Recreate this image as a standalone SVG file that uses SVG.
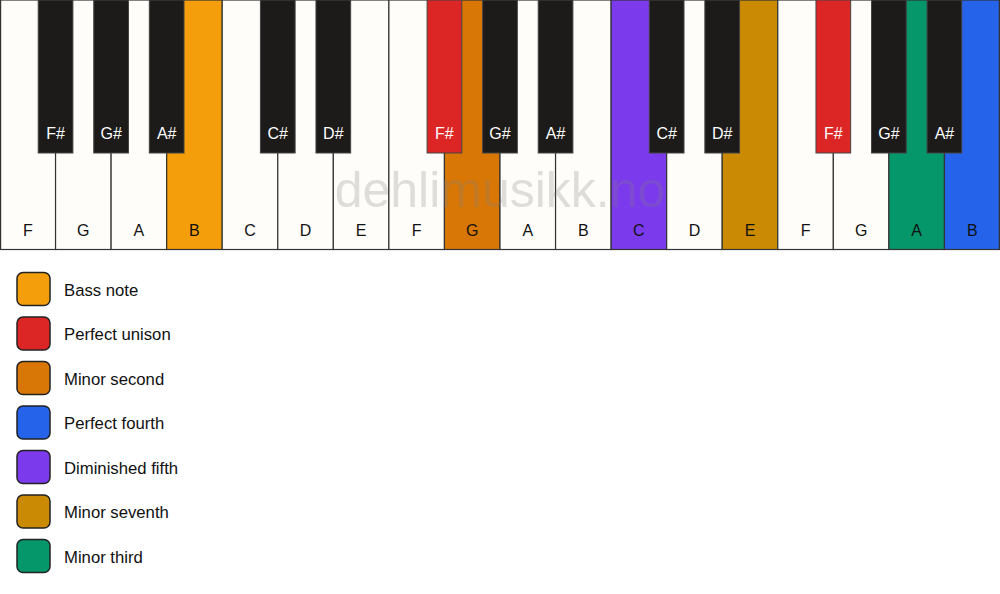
<svg xmlns="http://www.w3.org/2000/svg" width="1000" height="594" viewBox="0 0 1000 594">
<style>
.w{fill:#FFFDF9;stroke:#333;stroke-width:1.2}
.b{fill:#1C1B1A;stroke:#444;stroke-width:1}
.wl{font-family:"Liberation Sans",Arial,sans-serif;font-size:16px;fill:#111;text-anchor:middle}
.bl{font-family:"Liberation Sans",Arial,sans-serif;font-size:16px;fill:#fff;text-anchor:middle}
.lg{stroke:#222;stroke-width:1.5}
.lt{font-family:"Liberation Sans",Arial,sans-serif;font-size:16.7px;fill:#111}
.wm{font-family:"Liberation Sans",Arial,sans-serif;font-size:50px;fill:#808080;fill-opacity:0.25;text-anchor:middle}
</style>
<rect width="1000" height="594" fill="#FFFFFF"/>
<g id="white-keys">
<g id="wk0"><rect class="w" x="0.6" y="0" width="54.96" height="249.5"/><text class="wl" x="27.78" y="236">F</text></g>
<g id="wk1"><rect class="w" x="55.56" y="0" width="55.56" height="249.5"/><text class="wl" x="83.33" y="236">G</text></g>
<g id="wk2"><rect class="w" x="111.11" y="0" width="55.56" height="249.5"/><text class="wl" x="138.89" y="236">A</text></g>
<g id="wk3"><rect class="w" x="166.67" y="0" width="55.56" height="249.5" style="fill:#F59E0B"/><text class="wl" x="194.44" y="236">B</text></g>
<g id="wk4"><rect class="w" x="222.22" y="0" width="55.56" height="249.5"/><text class="wl" x="250" y="236">C</text></g>
<g id="wk5"><rect class="w" x="277.78" y="0" width="55.56" height="249.5"/><text class="wl" x="305.56" y="236">D</text></g>
<g id="wk6"><rect class="w" x="333.33" y="0" width="55.56" height="249.5"/><text class="wl" x="361.11" y="236">E</text></g>
<g id="wk7"><rect class="w" x="388.89" y="0" width="55.56" height="249.5"/><text class="wl" x="416.67" y="236">F</text></g>
<g id="wk8"><rect class="w" x="444.44" y="0" width="55.56" height="249.5" style="fill:#D97706"/><text class="wl" x="472.22" y="236">G</text></g>
<g id="wk9"><rect class="w" x="500" y="0" width="55.56" height="249.5"/><text class="wl" x="527.78" y="236">A</text></g>
<g id="wk10"><rect class="w" x="555.56" y="0" width="55.56" height="249.5"/><text class="wl" x="583.33" y="236">B</text></g>
<g id="wk11"><rect class="w" x="611.11" y="0" width="55.56" height="249.5" style="fill:#7C3AED"/><text class="wl" x="638.89" y="236">C</text></g>
<g id="wk12"><rect class="w" x="666.67" y="0" width="55.56" height="249.5"/><text class="wl" x="694.44" y="236">D</text></g>
<g id="wk13"><rect class="w" x="722.22" y="0" width="55.56" height="249.5" style="fill:#CA8A04"/><text class="wl" x="750" y="236">E</text></g>
<g id="wk14"><rect class="w" x="777.78" y="0" width="55.56" height="249.5"/><text class="wl" x="805.56" y="236">F</text></g>
<g id="wk15"><rect class="w" x="833.33" y="0" width="55.56" height="249.5"/><text class="wl" x="861.11" y="236">G</text></g>
<g id="wk16"><rect class="w" x="888.89" y="0" width="55.56" height="249.5" style="fill:#059669"/><text class="wl" x="916.67" y="236">A</text></g>
<g id="wk17"><rect class="w" x="944.44" y="0" width="54.96" height="249.5" style="fill:#2563EB"/><text class="wl" x="972.22" y="236">B</text></g>
</g>
<text class="wm" x="500" y="207">dehlimusikk.no</text>
<g id="black-keys">
<g id="bk1"><rect class="b" x="38.2" y="0" width="34.7" height="153"/><text class="bl" x="55.56" y="139">F#</text></g>
<g id="bk2"><rect class="b" x="93.75" y="0" width="34.7" height="153"/><text class="bl" x="111.11" y="139">G#</text></g>
<g id="bk3"><rect class="b" x="149.31" y="0" width="34.7" height="153"/><text class="bl" x="166.67" y="139">A#</text></g>
<g id="bk5"><rect class="b" x="260.42" y="0" width="34.7" height="153"/><text class="bl" x="277.78" y="139">C#</text></g>
<g id="bk6"><rect class="b" x="315.97" y="0" width="34.7" height="153"/><text class="bl" x="333.33" y="139">D#</text></g>
<g id="bk8"><rect class="b" x="427.08" y="0" width="34.7" height="153" style="fill:#DC2626"/><text class="bl" x="444.44" y="139">F#</text></g>
<g id="bk9"><rect class="b" x="482.64" y="0" width="34.7" height="153"/><text class="bl" x="500" y="139">G#</text></g>
<g id="bk10"><rect class="b" x="538.2" y="0" width="34.7" height="153"/><text class="bl" x="555.56" y="139">A#</text></g>
<g id="bk12"><rect class="b" x="649.31" y="0" width="34.7" height="153"/><text class="bl" x="666.67" y="139">C#</text></g>
<g id="bk13"><rect class="b" x="704.86" y="0" width="34.7" height="153"/><text class="bl" x="722.22" y="139">D#</text></g>
<g id="bk15"><rect class="b" x="815.97" y="0" width="34.7" height="153" style="fill:#DC2626"/><text class="bl" x="833.33" y="139">F#</text></g>
<g id="bk16"><rect class="b" x="871.53" y="0" width="34.7" height="153"/><text class="bl" x="888.89" y="139">G#</text></g>
<g id="bk17"><rect class="b" x="927.08" y="0" width="34.7" height="153"/><text class="bl" x="944.44" y="139">A#</text></g>
</g>
<g id="legend">
<g id="lg-bass"><rect class="lg" x="17" y="272.5" width="33" height="33" rx="6" fill="#F59E0B"/><text class="lt" x="64" y="295.5">Bass note</text></g>
<g id="lg-unison"><rect class="lg" x="17" y="317" width="33" height="33" rx="6" fill="#DC2626"/><text class="lt" x="64" y="340">Perfect unison</text></g>
<g id="lg-m2"><rect class="lg" x="17" y="361.5" width="33" height="33" rx="6" fill="#D97706"/><text class="lt" x="64" y="384.5">Minor second</text></g>
<g id="lg-p4"><rect class="lg" x="17" y="406" width="33" height="33" rx="6" fill="#2563EB"/><text class="lt" x="64" y="429">Perfect fourth</text></g>
<g id="lg-d5"><rect class="lg" x="17" y="450.5" width="33" height="33" rx="6" fill="#7C3AED"/><text class="lt" x="64" y="473.5">Diminished fifth</text></g>
<g id="lg-m7"><rect class="lg" x="17" y="495" width="33" height="33" rx="6" fill="#CA8A04"/><text class="lt" x="64" y="518">Minor seventh</text></g>
<g id="lg-m3"><rect class="lg" x="17" y="539.5" width="33" height="33" rx="6" fill="#059669"/><text class="lt" x="64" y="562.5">Minor third</text></g>
</g>
</svg>
